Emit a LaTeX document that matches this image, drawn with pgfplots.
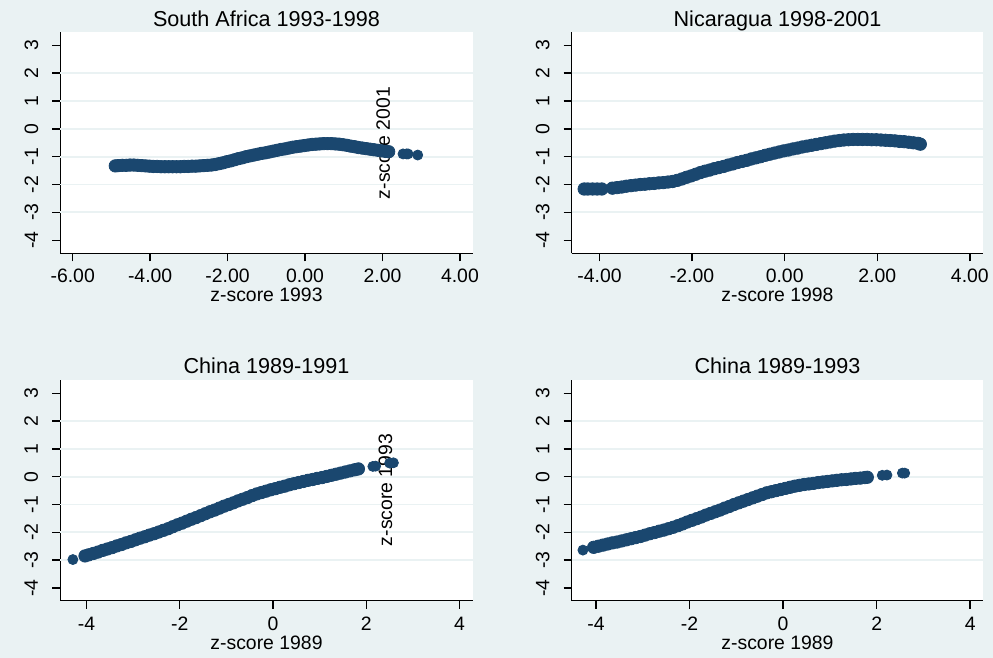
\documentclass[border=0pt]{standalone}
\usepackage{pgfplots}
\pgfplotsset{compat=1.18}
\usepackage{fontspec}
\setmainfont{Liberation Sans}
\definecolor{bgc}{RGB}{234,242,243}
\definecolor{gridc}{RGB}{234,242,243}
\definecolor{stnavy}{RGB}{26,71,111}
\newcommand{\lblfont}{\fontsize{9.7}{11}\selectfont}
\newcommand{\ttlfont}{\fontsize{10.8}{12}\selectfont}
\pgfplotsset{stata/.style={
  scale only axis, anchor=south west,
  axis lines*=left,
  axis line style={line width=0.7pt, black},
  axis background/.style={fill=white},
  tick align=outside, major tick length=4pt,
  every tick/.style={line width=0.7pt, black},
  ymin=-4.47, ymax=3.47,
  ytick={-4,-3,-2,-1,0,1,2,3}, yticklabels={-4,-3,-2,-1,0,1,2,3},
  extra y ticks={-3,-2,-1,0,1,2}, extra y tick labels={},
  extra y tick style={grid=major, major tick length=0pt},
  grid style={gridc, line width=0.9pt},
  tick label style={font=\lblfont},
  yticklabel style={xshift=-7.15pt, rotate=90, anchor=base, inner sep=0pt},
  xticklabel style={anchor=base, inner sep=0pt, yshift=-10.7pt},
  title style={font=\ttlfont, at={(0.5,1)}, anchor=base, yshift=-3pt, inner sep=0pt},
  xlabel style={font=\lblfont, at={(0.5,0)}, anchor=base, yshift=-24.2pt, inner sep=0pt},
  mk/.style={only marks, mark=*, mark size=3.1pt, color=stnavy, mark options={draw=stnavy, fill=stnavy}},
  mki/.style={only marks, mark=*, mark size=2.5pt, color=stnavy, mark options={draw=stnavy, fill=stnavy}},
}}
% South Africa: dense part and isolated points
\pgfplotstableread{
x y
-4.90 -1.33
-4.82 -1.32
-4.72 -1.31
-4.62 -1.31
-4.52 -1.30
-4.42 -1.30
-4.32 -1.31
-4.22 -1.32
-4.12 -1.33
-4.02 -1.34
-3.92 -1.35
-3.82 -1.35
-3.72 -1.36
-3.62 -1.36
-3.52 -1.36
-3.42 -1.36
-3.32 -1.36
-3.22 -1.36
-3.12 -1.35
-3.02 -1.35
-2.92 -1.34
-2.82 -1.34
-2.72 -1.33
-2.62 -1.32
-2.52 -1.31
-2.42 -1.30
-2.32 -1.28
-2.22 -1.25
-2.12 -1.22
-2.02 -1.18
-1.92 -1.15
-1.82 -1.11
-1.72 -1.07
-1.62 -1.04
-1.52 -1.00
-1.42 -0.97
-1.32 -0.94
-1.22 -0.91
-1.12 -0.88
-1.02 -0.86
-0.92 -0.83
-0.82 -0.80
-0.72 -0.77
-0.62 -0.74
-0.52 -0.72
-0.42 -0.69
-0.32 -0.66
-0.22 -0.64
-0.12 -0.62
-0.02 -0.60
0.08 -0.58
0.18 -0.56
0.28 -0.55
0.38 -0.54
0.48 -0.53
0.58 -0.53
0.68 -0.53
0.78 -0.54
0.88 -0.55
0.98 -0.57
1.08 -0.59
1.18 -0.62
1.28 -0.64
1.38 -0.67
1.48 -0.69
1.58 -0.71
1.68 -0.73
1.78 -0.75
1.88 -0.77
1.98 -0.79
2.08 -0.81
2.16 -0.82
}\sa
\pgfplotstableread{
x y
2.53 -0.90
2.62 -0.90
2.66 -0.90
2.91 -0.94
}\sai
\pgfplotstableread{
x y
-4.33 -2.16
-4.25 -2.16
-4.15 -2.16
-4.05 -2.16
-3.95 -2.16
-3.72 -2.13
-3.62 -2.11
-3.52 -2.09
-3.42 -2.06
-3.32 -2.04
-3.22 -2.02
-3.12 -2.00
-3.02 -1.99
-2.92 -1.97
-2.82 -1.96
-2.72 -1.94
-2.62 -1.93
-2.52 -1.91
-2.42 -1.89
-2.32 -1.85
-2.22 -1.80
-2.12 -1.74
-2.02 -1.69
-1.92 -1.63
-1.82 -1.57
-1.72 -1.52
-1.62 -1.48
-1.52 -1.43
-1.42 -1.39
-1.32 -1.35
-1.22 -1.30
-1.12 -1.26
-1.02 -1.21
-0.92 -1.17
-0.82 -1.13
-0.72 -1.08
-0.62 -1.04
-0.52 -1.00
-0.42 -0.95
-0.32 -0.91
-0.22 -0.87
-0.12 -0.83
-0.02 -0.79
0.08 -0.76
0.18 -0.72
0.28 -0.69
0.38 -0.65
0.48 -0.62
0.58 -0.59
0.68 -0.56
0.78 -0.53
0.88 -0.50
0.98 -0.47
1.08 -0.44
1.18 -0.42
1.28 -0.40
1.38 -0.39
1.48 -0.38
1.58 -0.38
1.68 -0.38
1.78 -0.38
1.88 -0.39
1.98 -0.39
2.08 -0.40
2.18 -0.41
2.28 -0.42
2.38 -0.43
2.48 -0.45
2.58 -0.46
2.68 -0.48
2.78 -0.50
2.88 -0.52
2.93 -0.55
}\nic
\pgfplotstableread{
x y
-4.03 -2.85
-3.95 -2.81
-3.85 -2.76
-3.75 -2.71
-3.65 -2.65
-3.55 -2.60
-3.45 -2.55
-3.35 -2.49
-3.25 -2.44
-3.15 -2.38
-3.05 -2.33
-2.95 -2.27
-2.85 -2.21
-2.75 -2.16
-2.65 -2.10
-2.55 -2.05
-2.45 -1.99
-2.35 -1.93
-2.25 -1.87
-2.15 -1.80
-2.05 -1.73
-1.95 -1.67
-1.85 -1.60
-1.75 -1.53
-1.65 -1.47
-1.55 -1.40
-1.45 -1.33
-1.35 -1.26
-1.25 -1.20
-1.15 -1.13
-1.05 -1.06
-0.95 -1.00
-0.85 -0.94
-0.75 -0.87
-0.65 -0.81
-0.55 -0.75
-0.45 -0.68
-0.35 -0.62
-0.25 -0.57
-0.15 -0.52
-0.05 -0.47
0.05 -0.43
0.15 -0.38
0.25 -0.34
0.35 -0.29
0.45 -0.25
0.55 -0.21
0.65 -0.17
0.75 -0.13
0.85 -0.10
0.95 -0.06
1.05 -0.03
1.15 0.01
1.25 0.05
1.35 0.09
1.45 0.13
1.55 0.17
1.65 0.21
1.75 0.25
1.83 0.28
}\cha
\pgfplotstableread{
x y
-4.29 -2.98
2.14 0.37
2.20 0.38
2.50 0.49
2.58 0.50
}\chai
\pgfplotstableread{
x y
-4.05 -2.54
-3.95 -2.50
-3.85 -2.46
-3.75 -2.42
-3.65 -2.38
-3.55 -2.35
-3.45 -2.31
-3.35 -2.27
-3.25 -2.23
-3.15 -2.19
-3.05 -2.15
-2.95 -2.10
-2.85 -2.05
-2.75 -2.01
-2.65 -1.96
-2.55 -1.92
-2.45 -1.87
-2.35 -1.82
-2.25 -1.76
-2.15 -1.70
-2.05 -1.63
-1.95 -1.57
-1.85 -1.51
-1.75 -1.45
-1.65 -1.38
-1.55 -1.32
-1.45 -1.26
-1.35 -1.20
-1.25 -1.13
-1.15 -1.07
-1.05 -1.00
-0.95 -0.94
-0.85 -0.88
-0.75 -0.82
-0.65 -0.76
-0.55 -0.70
-0.45 -0.64
-0.35 -0.58
-0.25 -0.54
-0.15 -0.50
-0.05 -0.46
0.05 -0.42
0.15 -0.38
0.25 -0.34
0.35 -0.31
0.45 -0.28
0.55 -0.26
0.65 -0.24
0.75 -0.21
0.85 -0.19
0.95 -0.17
1.05 -0.15
1.15 -0.13
1.25 -0.11
1.35 -0.10
1.45 -0.08
1.55 -0.06
1.65 -0.05
1.75 -0.03
1.80 -0.02
}\chb
\pgfplotstableread{
x y
-4.28 -2.64
2.12 0.05
2.22 0.06
2.55 0.13
2.60 0.13
}\chbi
\begin{document}
\begin{tikzpicture}
\useasboundingbox (0,0) rectangle (496.5pt,329pt);
\fill[bgc] (0,0) rectangle (496.5pt,329pt);
% top-left
\begin{axis}[stata, at={(30.15pt,202.35pt)}, width=206.2pt, height=110.5pt,
  xmin=-6.32, xmax=4.33, xtick={-6,-4,-2,0,2,4},
  xticklabels={-6.00,-4.00,-2.00,0.00,2.00,4.00},
  title={South Africa 1993-1998}, xlabel={z-score 1993}]
\addplot[mk] table {\sa};
\addplot[mki] table {\sai};
\node[rotate=90, font=\lblfont] at (axis cs:2.02,-0.51) {z-score 2001};
\end{axis}
% top-right
\begin{axis}[stata, at={(285.85pt,202.35pt)}, width=205.8pt, height=110.5pt,
  xmin=-4.6, xmax=4.29, xtick={-4,-2,0,2,4},
  xticklabels={-4.00,-2.00,0.00,2.00,4.00},
  title={Nicaragua 1998-2001}, xlabel={z-score 1998}]
\addplot[mk] table {\nic};
\end{axis}
% bottom-left
\begin{axis}[stata, at={(30.15pt,28.65pt)}, width=206.2pt, height=110.35pt,
  ymin=-4.46, ymax=3.48,
  xmin=-4.56, xmax=4.28, xtick={-4,-2,0,2,4},
  xticklabels={-4,-2,0,2,4},
  title={China 1989-1991}, xlabel={z-score 1989}]
\addplot[mk] table {\cha};
\addplot[mki] table {\chai};
\node[rotate=90, font=\lblfont] at (axis cs:2.41,-0.48) {z-score 1993};
\end{axis}
% bottom-right
\begin{axis}[stata, at={(285.85pt,28.65pt)}, width=205.8pt, height=110.35pt,
  ymin=-4.46, ymax=3.48,
  xmin=-4.52, xmax=4.28, xtick={-4,-2,0,2,4},
  xticklabels={-4,-2,0,2,4},
  title={China 1989-1993}, xlabel={z-score 1989}]
\addplot[mk] table {\chb};
\addplot[mki] table {\chbi};
\end{axis}
\end{tikzpicture}
\end{document}
